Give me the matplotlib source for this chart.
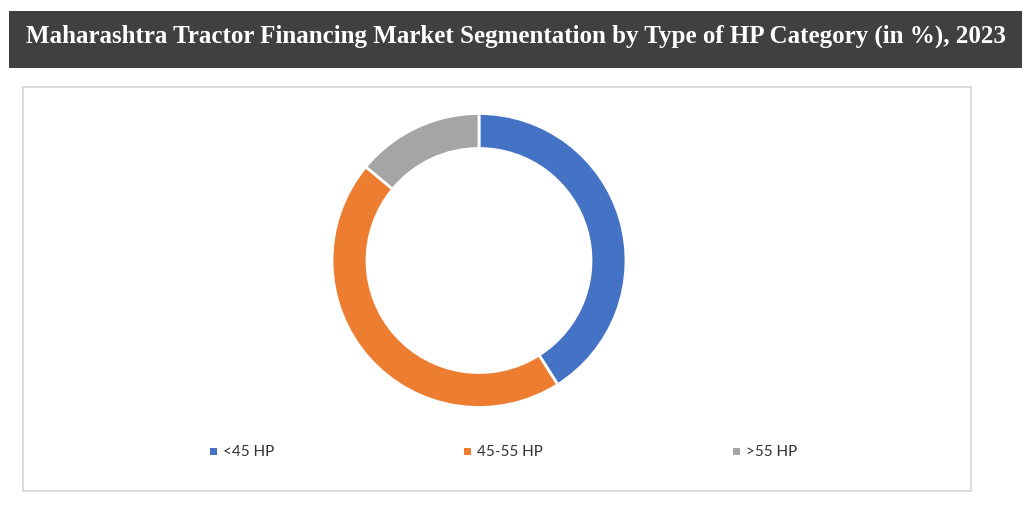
import matplotlib
matplotlib.use("Agg")
import matplotlib.pyplot as plt
from matplotlib.patches import Rectangle

categories = ["<45 HP", "45-55 HP", ">55 HP"]
values = [41, 45, 14]
colors = ["#4472C4", "#ED7D31", "#A5A5A5"]
title = "Maharashtra Tractor Financing Market Segmentation by Type of HP Category (in %), 2023"

W, H = 1024, 505
fig = plt.figure(figsize=(W / 100, H / 100), dpi=100)
fig.patch.set_facecolor("white")

def fx(px):
    return px / W

def fy(py):
    return 1 - py / H

# title bar
fig.patches.append(Rectangle((fx(9), fy(68)), fx(1022) - fx(9), fy(11) - fy(68),
                             transform=fig.transFigure, facecolor="#404040",
                             edgecolor="none", zorder=-2))
t = fig.text(fx(516), fy(36), title, color="white", ha="center", va="center",
             fontsize=16, fontweight="bold", family="Liberation Serif")
fig.canvas.draw()
r = fig.canvas.get_renderer()
w = t.get_window_extent(r).width
t.set_fontsize(16 * 984 / w)

# chart box
fig.patches.append(Rectangle((fx(23), fy(491)), fx(971) - fx(23), fy(87) - fy(491),
                             transform=fig.transFigure, facecolor="white",
                             edgecolor="#D9D9D9", linewidth=1.3, zorder=-2))

# donut
cx, cy, R, Ri = 479, 260.5, 147, 112
ax = fig.add_axes([fx(cx - R), fy(cy + R), 2 * R / W, 2 * R / H])
ax.set_zorder(2)
ax.patch.set_alpha(0)
ax.pie(values, colors=colors, startangle=90, counterclock=False, radius=1,
       wedgeprops=dict(width=1 - Ri / R, edgecolor="white", linewidth=2))
ax.set_xlim(-1.0, 1.0)
ax.set_ylim(-1.0, 1.0)
ax.set_aspect("equal")
ax.axis("off")

# legend
x = 210
for lab, col in zip(categories, colors):
    fig.patches.append(Rectangle((fx(x), fy(455)), 7 / W, 7 / H,
                                 transform=fig.transFigure, facecolor=col,
                                 edgecolor="none", zorder=3))
    tx = fig.text(fx(x + 13), fy(452), lab, ha="left", va="center",
                  fontsize=11, color="#333333", family="Lato", zorder=3)
    fig.canvas.draw()
    tw = tx.get_window_extent(fig.canvas.get_renderer()).width
    x = x + 13 + tw + 190

fig.savefig("out.png", dpi=100, facecolor="white")
